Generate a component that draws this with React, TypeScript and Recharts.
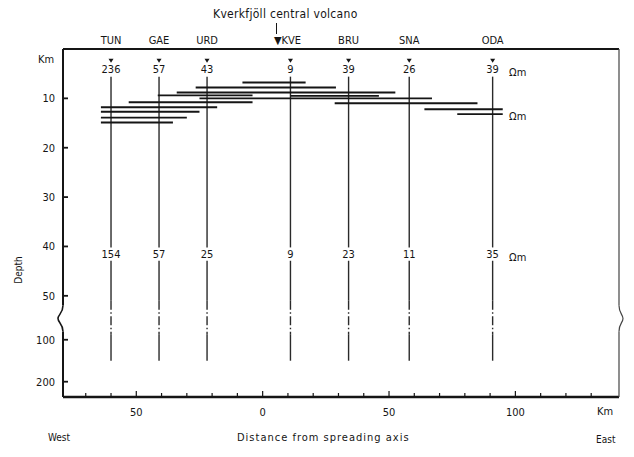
import React from 'react';
import { ComposedChart, XAxis, YAxis, Scatter, ReferenceLine } from 'recharts';

const stationNames = ['TUN', 'GAE', 'URD', 'KVE', 'BRU', 'SNA', 'ODA'];
const stationKm = [-60, -41, -22, 11, 34, 58, 91];
const topRho = [236, 57, 43, 9, 39, 26, 39];
const deepRho = [154, 57, 25, 9, 23, 11, 35];

// conductive layer bars: depth (km) and horizontal extent (km from spreading axis)
const layerDepth = [6.8, 7.8, 8.8, 9.4, 9.5, 10.0, 10.8, 11.0, 11.8, 12.2, 12.7, 13.2, 13.9, 14.9];
const layerFrom = [-8, -26.5, -34, -41.5, 11, -25, -53, 28.5, -64, 64, -64, 77, -64, -64];
const layerTo = [17, 29, 52.5, -4, 46, 67, -4, 85, -18, 95, -25, 95, -30, -35.5];

const depthTicks = [10, 20, 30, 40, 50, 100, 200];
const distTicks = [-70, -60, -50, -40, -30, -20, -10, 0, 10, 20, 30, 40, 50, 60, 70, 80, 90, 100, 110, 120, 130];

// depth axis is broken between 50 and 100 km, compressed below
const toV = (d: number) => (d <= 52 ? d : 58.9 + (d - 100) * 0.085);
const BREAK_V = 54.6;
const BOTTOM_V = 70.5;

const ink = '#151515';
const font = '"DejaVu Sans Condensed", "DejaVu Sans", sans-serif';

const topLabels = stationKm.map((x, i) => ({ x, v: toV(4.1), label: String(topRho[i]) }));
const deepLabels = stationKm.map((x, i) => ({ x, v: toV(41.5), label: String(deepRho[i]) }));
const markers = stationKm.map((x) => ({ x, v: toV(2.4) }));
const unitLabels = [
  { x: 97.5, v: toV(4.7), label: 'Ωm' },
  { x: 97.5, v: toV(13.6), label: 'Ωm' },
  { x: 97.5, v: toV(42.1), label: 'Ωm' },
];

// station line pieces: [from depth, to depth, dashed]
const stationPieces: [number, number, boolean][] = [
  [5.6, 40.2, false],
  [42.9, 51, false],
  [51, 88, true],
  [88, 150, false],
];

const textShape = (anchor: 'middle' | 'start') => (p: any) => (
  <text x={p.cx} y={p.cy} dy="0.35em" textAnchor={anchor} fontFamily={font} fontSize={11} fill={ink}>
    {p.payload.label}
  </text>
);

const triShape = (p: any) => (
  <path d={`M${p.cx - 2.5},${p.cy - 2} L${p.cx + 2.5},${p.cy - 2} L${p.cx},${p.cy + 2} Z`} fill={ink} />
);

const renderDepthTick = (p: any) => {
  const { x, y, payload } = p;
  if (payload.value === BREAK_V) {
    return (
      <g>
        <rect x={x - 7} y={y - 13} width={11} height={26} fill="#fff" />
        <path
          d={`M${x},${y - 13} C${x},${y - 5} ${x - 5},${y - 4} ${x - 5},${y} C${x - 5},${y + 4} ${x},${y + 5} ${x},${y + 13}`}
          fill="none"
          stroke={ink}
          strokeWidth={1.6}
        />
      </g>
    );
  }
  const d = depthTicks.find((t) => Math.abs(toV(t) - payload.value) < 1e-6);
  return (
    <g>
      <line x1={x} x2={x + 5} y1={y} y2={y} stroke={ink} strokeWidth={1.8} />
      <text x={x - 8} y={y} dy="0.35em" textAnchor="end" fontFamily={font} fontSize={11} fill={ink}>
        {d}
      </text>
    </g>
  );
};

const renderBreakRight = (p: any) => {
  const { x, y } = p;
  return (
    <g>
      <rect x={x - 4} y={y - 13} width={11} height={26} fill="#fff" />
      <path
        d={`M${x},${y - 13} C${x},${y - 5} ${x + 4},${y - 4} ${x + 4},${y} C${x + 4},${y + 4} ${x},${y + 5} ${x},${y + 13}`}
        fill="none"
        stroke="#444"
        strokeWidth={1.2}
      />
    </g>
  );
};

const renderDistTick = (p: any) => {
  const { x, y, payload } = p;
  const v = payload.value;
  const major = v % 50 === 0;
  return (
    <g>
      <line x1={x} x2={x} y1={y} y2={y - (major ? 6 : 4)} stroke={ink} strokeWidth={1.2} />
      {major && (
        <text x={x} y={y + 15} dy="0.35em" textAnchor="middle" fontFamily={font} fontSize={11} fill={ink}>
          {Math.abs(v)}
        </text>
      )}
    </g>
  );
};

const renderStationTick = (p: any) => {
  const { x, y, payload } = p;
  const i = stationKm.indexOf(payload.value);
  const name = stationNames[i];
  return (
    <text x={name === 'KVE' ? x - 3 : x} y={y - 9} dy="0.35em" textAnchor="middle" fontFamily={font} fontSize={11} fill={ink}>
      {name === 'KVE' ? '▼KVE' : name}
    </text>
  );
};

const abs = (left: number, top: number, extra: React.CSSProperties = {}): React.CSSProperties => ({
  position: 'absolute',
  left,
  top,
  fontFamily: font,
  fontSize: 11,
  color: ink,
  whiteSpace: 'nowrap',
  lineHeight: '12px',
  ...extra,
});

export default function App() {
  return (
    <div style={{ position: 'absolute', left: 0, top: 0, width: 634, height: 457, background: '#fff' }}>
      <ComposedChart width={634} height={457} margin={{ top: 29, right: 5, bottom: 30, left: 13 }}>
        <XAxis
          type="number"
          dataKey="x"
          domain={[-79, 141]}
          ticks={distTicks}
          height={30}
          axisLine={{ stroke: ink, strokeWidth: 2.4 }}
          tickLine={false}
          tickSize={0}
          tickMargin={0}
          tick={renderDistTick}
          interval={0}
        />
        <XAxis
          xAxisId="top"
          orientation="top"
          type="number"
          dataKey="x"
          domain={[-79, 141]}
          ticks={stationKm}
          height={20}
          axisLine={{ stroke: ink, strokeWidth: 2 }}
          tickLine={false}
          tickSize={0}
          tickMargin={0}
          tick={renderStationTick}
          interval={0}
        />
        <YAxis
          type="number"
          dataKey="v"
          domain={[0, BOTTOM_V]}
          reversed
          ticks={[...depthTicks.map(toV), BREAK_V]}
          width={50}
          axisLine={{ stroke: ink, strokeWidth: 2 }}
          tickLine={false}
          tickSize={0}
          tickMargin={0}
          tick={renderDepthTick}
          interval={0}
        />
        <YAxis
          yAxisId="right"
          orientation="right"
          type="number"
          dataKey="v"
          domain={[0, BOTTOM_V]}
          reversed
          ticks={[BREAK_V]}
          width={10}
          axisLine={{ stroke: '#444', strokeWidth: 1.2 }}
          tickLine={false}
          tickSize={0}
          tickMargin={0}
          tick={renderBreakRight}
          interval={0}
        />

        {stationKm.map((x) =>
          stationPieces.map(([a, b, dashed], j) => (
            <ReferenceLine
              key={`s${x}-${j}`}
              segment={[
                { x, y: toV(a) },
                { x, y: toV(b) },
              ]}
              stroke="#2a2a2a"
              strokeWidth={1.4}
              strokeDasharray={dashed ? '9 2.5 1.5 2.5' : undefined}
            />
          ))
        )}

        {layerDepth.map((d, i) => (
          <ReferenceLine
            key={`l${i}`}
            segment={[
              { x: layerFrom[i], y: d },
              { x: layerTo[i], y: d },
            ]}
            stroke={ink}
            strokeWidth={1.9}
          />
        ))}

        <Scatter data={topLabels} shape={textShape('middle')} isAnimationActive={false} />
        <Scatter data={deepLabels} shape={textShape('middle')} isAnimationActive={false} />
        <Scatter data={markers} xAxisId="top" shape={triShape} isAnimationActive={false} />
        <Scatter data={unitLabels} yAxisId="right" shape={textShape('start')} isAnimationActive={false} />
      </ComposedChart>

      <div style={abs(213, 8, { fontSize: 12, letterSpacing: 0.3 })}>Kverkfjöll central volcano</div>
      <div style={{ position: 'absolute', left: 276, top: 23, width: 1, height: 11, background: ink }} />
      <div style={abs(38, 54)}>Km</div>
      <div
        style={abs(2, 264, {
          transform: 'rotate(-90deg)',
          transformOrigin: 'center',
          width: 34,
          textAlign: 'center',
          fontSize: 10,
        })}
      >
        Depth
      </div>
      <div style={abs(597, 406)}>Km</div>
      <div style={abs(48, 432, { fontSize: 10 })}>West</div>
      <div style={abs(237, 432, { letterSpacing: 1 })}>Distance from spreading axis</div>
      <div style={abs(596, 434, { fontSize: 10 })}>East</div>
    </div>
  );
}
